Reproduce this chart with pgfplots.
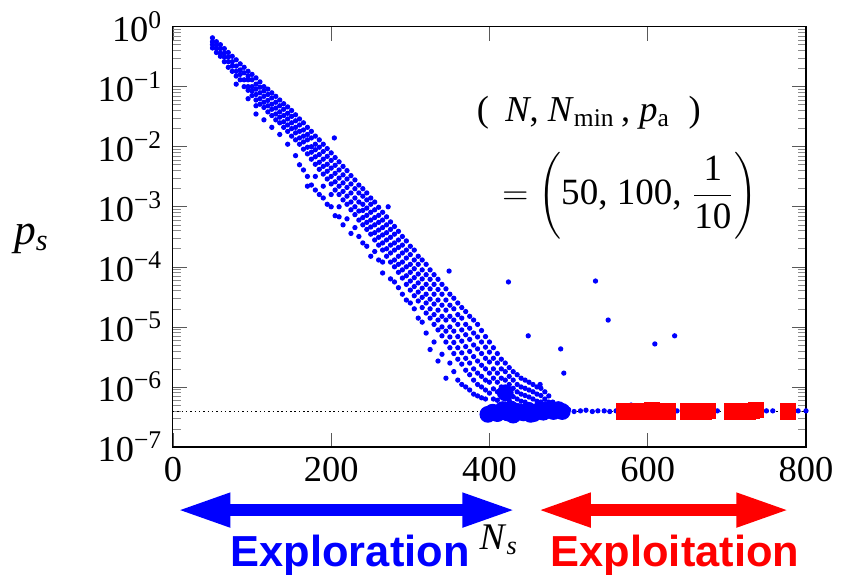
\documentclass[border=0pt]{standalone}
\usepackage{fontspec}
\setmainfont{Liberation Serif}
\newfontfamily\lsans{Liberation Sans}
\usepackage{pgfplots}
\pgfplotsset{compat=1.18}
\usetikzlibrary{arrows.meta}
\begin{document}
\begin{tikzpicture}
\begin{axis}[
  scale only axis, width=218.8pt, height=145.3pt,
  xmin=0, xmax=800, ymin=1e-7, ymax=1, ymode=log,
  xtick={0,200,400,600,800},
  xticklabels={0,200,400,600,800},
  ytick={1e-7,1e-6,1e-5,1e-4,1e-3,1e-2,1e-1,1},
  yticklabels={10\textsuperscript{−7},10\textsuperscript{−6},10\textsuperscript{−5},10\textsuperscript{−4},10\textsuperscript{−3},10\textsuperscript{−2},10\textsuperscript{−1},10\textsuperscript{0}},
  tick label style={font=\fontsize{12.6}{15}\selectfont},
  major tick length=5pt, minor tick length=2.8pt,
  major tick style={black!65}, minor tick style={black!45},
  clip=false,
]
\path (rel axis cs:-0.2731,-0.3031) rectangle (rel axis cs:1.0524,1.0632);
\addplot[black, densely dotted, line width=0.5pt, forget plot] coordinates {(0,3.9e-7) (800,3.9e-7)};
% small blue dots
\addplot[only marks, mark=*, mark size=0.7pt, color=blue, mark options={draw=blue, fill=blue}] coordinates {
(50,6.5e-1)(50,5.6e-1)(50,5.0e-1)(50,4.4e-1)
(55,5.6e-1)(55,4.9e-1)(55,4.3e-1)(55,3.7e-1)
(60,5.0e-1)(60,4.3e-1)(60,3.6e-1)(60,3.2e-1)
(65,4.3e-1)(65,3.6e-1)(65,3.1e-1)(65,2.6e-1)
(70,3.7e-1)(70,3.1e-1)(70,2.6e-1)(70,2.1e-1)
(75,3.2e-1)(75,2.6e-1)(75,2.2e-1)(75,1.8e-1)
(80,2.8e-1)(80,2.2e-1)(80,1.8e-1)(80,1.5e-1)(80,1.1e-1)
(85,2.4e-1)(85,1.9e-1)(85,1.6e-1)(85,1.3e-1)
(90,2.1e-1)(90,1.7e-1)(90,1.3e-1)(90,1.0e-1)
(95,1.8e-1)(95,1.5e-1)(95,1.3e-1)(95,1.0e-1)(95,8.7e-2)(95,6.3e-2)
(100,1.6e-1)(100,1.3e-1)(100,1.0e-1)(100,8.5e-2)(100,7.1e-2)
(105,1.4e-1)(105,1.1e-1)(105,9.1e-2)(105,7.4e-2)(105,6.0e-2)(105,4.8e-2)(105,3.5e-2)
(110,1.2e-1)(110,9.8e-2)(110,7.9e-2)(110,6.3e-2)(110,5.1e-2)
(115,1.0e-1)(115,8.5e-2)(115,6.9e-2)(115,5.5e-2)(115,4.5e-2)(115,2.8e-2)
(120,9.1e-2)(120,7.4e-2)(120,5.9e-2)(120,4.8e-2)(120,3.8e-2)
(125,7.9e-2)(125,6.5e-2)(125,5.1e-2)(125,4.2e-2)(125,3.3e-2)(125,2.1e-2)
(130,6.9e-2)(130,5.5e-2)(130,4.4e-2)(130,3.5e-2)(130,2.8e-2)
(135,6.0e-2)(135,4.8e-2)(135,3.8e-2)(135,3.1e-2)(135,2.5e-2)(135,1.6e-2)
(140,5.2e-2)(140,4.2e-2)(140,3.3e-2)(140,2.6e-2)(140,2.1e-2)
(145,4.6e-2)(145,3.6e-2)(145,2.9e-2)(145,2.3e-2)(145,1.8e-2)(145,1.1e-2)
(150,4.0e-2)(150,3.2e-2)(150,2.5e-2)(150,2.0e-2)(150,1.5e-2)
(155,3.4e-2)(155,2.7e-2)(155,2.1e-2)(155,1.7e-2)(155,1.3e-2)(155,7.1e-3)
(160,2.9e-2)(160,2.3e-2)(160,1.8e-2)(160,1.4e-2)(160,1.1e-2)(160,5.0e-3)
(165,2.5e-2)(165,1.9e-2)(165,1.5e-2)(165,1.2e-2)(165,9.1e-3)(165,4.1e-3)
(170,2.1e-2)(170,1.6e-2)(170,1.3e-2)(170,9.8e-3)(170,7.6e-3)(170,3.2e-3)(170,2.2e-3)
(175,1.8e-2)(175,1.4e-2)(175,1.0e-2)(175,8.1e-3)(175,6.2e-3)(175,2.3e-3)
(180,1.5e-2)(180,1.1e-2)(180,8.9e-3)(180,6.8e-3)(180,5.1e-3)(180,3.2e-3)(180,1.9e-3)
(185,1.3e-2)(185,9.8e-3)(185,7.4e-3)(185,5.5e-3)(185,4.2e-3)(185,1.6e-3)
(190,1.1e-2)(190,8.3e-3)(190,6.2e-3)(190,4.7e-3)(190,3.5e-3)(190,2.2e-3)(190,1.4e-3)
(195,9.3e-3)(195,6.9e-3)(195,5.1e-3)(195,3.9e-3)(195,2.9e-3)(195,1.1e-3)
(200,7.9e-3)(200,5.9e-3)(200,4.4e-3)(200,3.2e-3)(200,2.4e-3)(200,1.6e-3)(200,1.0e-3)
(205,6.6e-3)(205,4.9e-3)(205,3.6e-3)(205,2.6e-3)(205,1.9e-3)(205,7.1e-4)(204,1.4e-2)
(210,5.6e-3)(210,4.1e-3)(210,3.0e-3)(210,2.2e-3)(210,1.6e-3)(210,1.0e-3)(210,6.8e-4)
(215,4.7e-3)(215,3.4e-3)(215,2.5e-3)(215,1.8e-3)(215,1.3e-3)(215,5.0e-4)
(220,4.0e-3)(220,2.9e-3)(220,2.1e-3)(220,1.5e-3)(220,1.1e-3)(220,6.3e-4)
(225,3.3e-3)(225,2.4e-3)(225,1.7e-3)(225,1.2e-3)(225,8.9e-4)(225,3.6e-4)
(230,2.8e-3)(230,2.0e-3)(230,1.4e-3)(230,1.0e-3)(230,7.4e-4)(230,4.5e-4)
(235,2.3e-3)(235,1.7e-3)(235,1.2e-3)(235,8.5e-4)(235,6.0e-4)(235,3.2e-4)
(240,2.0e-3)(240,1.5e-3)(240,1.1e-3)(240,8.7e-4)(240,6.6e-4)(240,5.0e-4)(240,2.5e-4)
(245,1.7e-3)(245,1.3e-3)(245,9.5e-4)(245,7.2e-4)(245,5.5e-4)(245,4.2e-4)(245,2.2e-4)
(250,1.4e-3)(250,1.1e-3)(250,8.1e-4)(250,6.0e-4)(250,4.6e-4)(250,3.5e-4)(250,1.5e-4)
(255,1.2e-3)(255,8.9e-4)(255,6.6e-4)(255,5.0e-4)(255,3.7e-4)(255,2.8e-4)(255,1.8e-4)
(260,9.8e-4)(260,7.2e-4)(260,5.5e-4)(260,4.1e-4)(260,3.1e-4)(260,2.3e-4)(260,1.3e-4)
(265,8.1e-4)(265,6.0e-4)(265,4.5e-4)(265,3.4e-4)(265,2.5e-4)(265,1.9e-4)(265,1.2e-4)(265,7.9e-5)
(270,6.8e-4)(270,5.0e-4)(270,3.7e-4)(270,2.8e-4)(270,2.0e-4)(270,1.5e-4)(272,1.0e-3)
(275,5.6e-4)(275,4.2e-4)(275,3.1e-4)(275,2.3e-4)(275,1.7e-4)(275,1.2e-4)(275,6.3e-5)
(280,4.7e-4)(280,3.5e-4)(280,2.5e-4)(280,1.9e-4)(280,1.3e-4)(280,1.0e-4)(280,5.6e-5)
(285,3.9e-4)(285,2.8e-4)(285,2.1e-4)(285,1.5e-4)(285,1.1e-4)(285,8.1e-5)(285,4.5e-5)
(290,3.2e-4)(290,2.3e-4)(290,1.7e-4)(290,1.2e-4)(290,8.9e-5)(290,6.5e-5)(290,3.5e-5)
(295,2.7e-4)(295,1.9e-4)(295,1.4e-4)(295,1.0e-4)(295,7.1e-5)(295,5.1e-5)(295,2.8e-5)
(300,2.2e-4)(300,1.6e-4)(300,1.1e-4)(300,8.1e-5)(300,5.8e-5)(300,4.1e-5)(300,2.5e-5)
(305,1.9e-4)(305,1.3e-4)(305,9.3e-5)(305,6.6e-5)(305,4.7e-5)(305,3.3e-5)(305,2.0e-5)
(310,1.5e-4)(310,1.1e-4)(310,7.6e-5)(310,5.4e-5)(310,3.8e-5)(310,2.7e-5)(310,1.4e-5)
(315,1.3e-4)(315,8.9e-5)(315,6.3e-5)(315,4.4e-5)(315,3.1e-5)(315,2.1e-5)(315,1.2e-5)
(320,1.1e-4)(320,7.4e-5)(320,5.1e-5)(320,3.5e-5)(320,2.5e-5)(320,1.7e-5)(320,7.9e-6)
(325,8.9e-5)(325,6.2e-5)(325,4.3e-5)(325,2.9e-5)(325,2.0e-5)(325,1.4e-5)(325,4.2e-6)
(330,7.4e-5)(330,5.1e-5)(330,3.5e-5)(330,2.4e-5)(330,1.6e-5)(330,1.1e-5)(330,5.6e-6)
(335,6.2e-5)(335,4.2e-5)(335,2.8e-5)(335,1.9e-5)(335,1.3e-5)(335,8.9e-6)(335,2.7e-6)
(340,5.1e-5)(340,3.5e-5)(340,2.3e-5)(340,1.5e-5)(340,1.0e-5)(340,7.1e-6)(340,3.5e-6)
(345,4.3e-5)(345,2.8e-5)(345,1.9e-5)(345,1.3e-5)(345,8.5e-6)(345,5.6e-6)(345,1.4e-6)
(350,3.5e-5)(350,2.3e-5)(350,1.5e-5)(350,1.0e-5)(350,6.8e-6)(350,4.5e-6)(350,2.5e-6)(349,8.5e-5)
(355,3.0e-5)(355,2.0e-5)(355,1.3e-5)(355,8.5e-6)(355,5.5e-6)(355,3.6e-6)(355,1.8e-6)
(360,2.5e-5)(360,1.6e-5)(360,1.1e-5)(360,6.9e-6)(360,4.5e-6)(360,2.9e-6)(360,1.3e-6)
(365,2.1e-5)(365,1.4e-5)(365,8.9e-6)(365,5.8e-6)(365,3.7e-6)(365,2.4e-6)(365,1.1e-6)
(370,1.8e-5)(370,1.1e-5)(370,7.4e-6)(370,4.7e-6)(370,3.0e-6)(370,1.9e-6)(370,1.0e-6)
(375,1.5e-5)(375,9.5e-6)(375,6.2e-6)(375,3.9e-6)(375,2.5e-6)(375,1.6e-6)(375,8.9e-7)
(380,1.3e-5)(380,7.9e-6)(380,5.0e-6)(380,3.2e-6)(380,2.0e-6)(380,1.3e-6)(380,7.6e-7)
(385,1.1e-5)(385,6.8e-6)(385,4.3e-6)(385,2.7e-6)(385,1.7e-6)(385,1.1e-6)(385,7.1e-7)
(390,8.7e-6)(390,5.6e-6)(390,3.6e-6)(390,2.3e-6)(390,1.5e-6)(390,1.0e-6)(390,6.6e-7)
(395,6.9e-6)(395,4.6e-6)(395,3.0e-6)(395,2.0e-6)(395,1.3e-6)(395,8.9e-7)(395,6.3e-7)
(400,5.6e-6)(400,3.8e-6)(400,2.6e-6)(400,1.7e-6)(400,1.2e-6)(400,7.9e-7)
(405,4.5e-6)(405,3.0e-6)(405,2.0e-6)(405,1.4e-6)(405,9.3e-7)(405,6.3e-7)
(410,3.6e-6)(410,2.5e-6)(410,1.7e-6)(410,1.2e-6)(410,8.3e-7)(410,6.0e-7)
(415,2.9e-6)(415,2.0e-6)(415,1.4e-6)(415,1.0e-6)(415,7.2e-7)
(420,2.5e-6)(420,1.8e-6)(420,1.3e-6)(420,8.9e-7)(420,6.3e-7)
(425,2.1e-6)(425,1.5e-6)(425,1.1e-6)(425,8.1e-7)(425,6.0e-7)(424,5.6e-5)
(430,1.8e-6)(430,1.3e-6)(430,9.5e-7)(430,6.9e-7)
(435,1.6e-6)(435,1.1e-6)(435,8.3e-7)(435,6.3e-7)
(440,1.4e-6)(440,1.0e-6)(440,7.6e-7)(440,5.8e-7)
(445,1.3e-6)(445,9.5e-7)(445,7.2e-7)(445,5.6e-7)
(450,1.2e-6)(450,8.9e-7)(450,6.8e-7)(449,7.1e-6)
(455,1.1e-6)(455,8.3e-7)(455,6.3e-7)
(460,1.0e-6)(460,7.6e-7)(460,5.8e-7)
(465,9.5e-7)(465,7.2e-7)(465,5.6e-7)(464,1.1e-6)
(470,8.3e-7)(470,6.3e-7)
(475,7.1e-7)(475,5.6e-7)
(480,5.6e-7)
(490,4.3e-6)(494,1.7e-6)(534,5.8e-5)(550,1.3e-5)(609,5.2e-6)(634,7.1e-6)
(472,4.0e-7)(480,4.1e-7)(487,3.9e-7)(494,4.0e-7)(500,4.2e-7)(507,3.9e-7)(515,4.0e-7)
(522,4.1e-7)(530,3.9e-7)(537,4.0e-7)(545,4.0e-7)(552,3.9e-7)(560,4.0e-7)(579,5.0e-7)
(590,4.0e-7)(637,4.0e-7)(688,4.0e-7)(750,4.0e-7)(758,4.0e-7)(790,4.0e-7)(800,4.0e-7)
};
% large blue dots
\addplot[only marks, mark=*, mark size=2.7pt, color=blue, mark options={draw=blue, fill=blue}] coordinates {
(398,3.5e-7)(404,3.8e-7)(410,3.6e-7)(417,4.2e-7)(423,3.7e-7)(430,3.4e-7)(436,3.9e-7)(443,3.7e-7)
(449,4.1e-7)(456,3.6e-7)(462,4.0e-7)(468,3.8e-7)(475,4.1e-7)(481,3.9e-7)(487,4.2e-7)(420,8.0e-7)
(427,4.3e-7)(452,3.5e-7)(471,4.2e-7)(492,3.9e-7)
};
% red squares
\addplot[only marks, mark=square*, mark size=2.6pt, color=red, mark options={draw=red, fill=red}] coordinates {
(570,3.9e-7)(575,4.0e-7)(580,3.9e-7)(585,3.8e-7)(590,4.0e-7)(595,3.9e-7)(600,4.0e-7)(605,4.1e-7)
(610,3.9e-7)(615,4.0e-7)(620,4.0e-7)(625,3.9e-7)
(651,3.9e-7)(656,4.0e-7)(661,3.9e-7)(666,4.0e-7)(671,3.9e-7)(676,4.0e-7)
(706,3.9e-7)(711,3.8e-7)(716,3.9e-7)(721,4.0e-7)(726,3.9e-7)(731,4.0e-7)(737,4.1e-7)
(777,3.9e-7)
};
% annotations
\node[anchor=base, inner sep=0pt] at (rel axis cs:0.657,0.775) {\fontsize{12.6}{15}\selectfont (\hspace{0.45em}\textit{N}, \textit{N}\textsubscript{min}\,, \textit{p}\textsubscript{a}\hspace{0.5em})};
\node[inner sep=0pt] at (rel axis cs:0.722,0.598) {\fontsize{12.8}{15}\selectfont $=\left(\mbox{50, 100, }\displaystyle\frac{\mbox{1}}{\mbox{10}}\right)$};
% axis labels
\node at (rel axis cs:-0.223,0.495) {\fontsize{15}{18}\selectfont\textit{p}\textsubscript{\textit{s}}};
\node[anchor=base, inner sep=0pt] at (rel axis cs:0.515,-0.243) {\fontsize{13}{15}\selectfont\textit{N}\textsubscript{\textit{s}}};
% arrows
\draw[blue, line width=4pt, {Triangle[length=18.4pt,width=10.9pt]}-{Triangle[length=18.4pt,width=10.9pt]}]
  (rel axis cs:0.0068,-0.150) -- (rel axis cs:0.5413,-0.150);
\draw[red, line width=4pt, {Triangle[length=18.4pt,width=10.9pt]}-{Triangle[length=18.4pt,width=10.9pt]}]
  (rel axis cs:0.576,-0.150) -- (rel axis cs:0.974,-0.150);
\node[anchor=base, inner sep=0pt, text=blue, font=\lsans\bfseries\fontsize{15}{18}\selectfont] at (rel axis cs:0.280,-0.284) {Exploration};
\node[anchor=base, inner sep=0pt, text=red, font=\lsans\bfseries\fontsize{15}{18}\selectfont] at (rel axis cs:0.793,-0.284) {Exploitation};
\end{axis}
\end{tikzpicture}
\end{document}
